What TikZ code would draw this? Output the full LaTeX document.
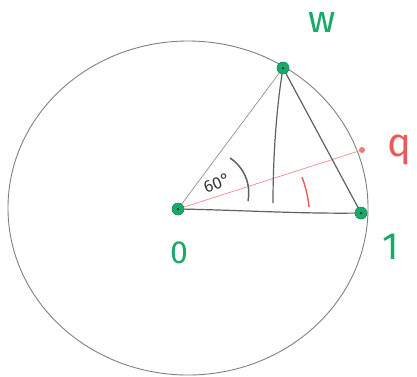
\documentclass[tikz,border=0pt]{standalone}
\usepackage{fontspec}
\setmainfont{Fira Sans}
\definecolor{pgreen}{RGB}{25,170,105}
\definecolor{pred}{RGB}{235,90,90}
\definecolor{pgray}{RGB}{95,95,105}
\tikzset{
  circ/.style={draw=pgray!80, line width=0.9pt},
  thinline/.style={draw=pgray!70, line width=0.7pt},
  darkline/.style={draw=pgray, line width=1.2pt},
  redline/.style={draw=pred!70, line width=0.7pt},
  gdot/.style={circle, fill=pgreen, draw=pgreen!80!black, line width=0.6pt, minimum size=12pt, inner sep=0pt},
  innerdot/.style={circle, fill=pgray!60!black, minimum size=3pt, inner sep=0pt},
  glabel/.style={text=pgreen, font=\fontsize{38}{38}\selectfont},
  rlabel/.style={text=pred, font=\fontsize{40}{40}\selectfont}
}
\begin{document}
\begin{tikzpicture}[x=1pt,y=-1pt]
\useasboundingbox (0,0) rectangle (417,376);
\draw[circ] (188,208) ellipse [x radius=180, y radius=167];
\coordinate (O) at (178,209);
\coordinate (one) at (361,213);
\coordinate (w) at (283,68);
\coordinate (q) at (362,150);
\coordinate (f) at (273,203);
% red line to q
\draw[redline] (O) -- (q);
% triangle
\draw[thinline] (O) -- (w);
\draw[darkline] (w) -- (one);
\draw[darkline] (O) .. controls (240,210) and (300,214) .. (one);
\draw[darkline] (w) .. controls (276,110) and (273,160) .. (f);
% angle arc
\draw[darkline, line width=1.5pt] (230,158) .. controls (245,168) and (251,185) .. (248,201);
\node[text=pgray!60!black, rotate=22, font=\fontsize{17}{17}\selectfont, inner sep=0pt] (ang) at (217,183) {60°};
% red tick
\draw[pred, line width=1.4pt] (302,177) .. controls (306,188) and (308,197) .. (309,207);
% dots
\node[circle, fill=pred!80, minimum size=6pt, inner sep=0pt] (qd) at (q) {};
\foreach \p in {O,one,w} {
  \node[gdot] (\p d) at (\p) {};
  \node[innerdot] at (\p) {};
}
% labels
\node[glabel] (lw) at (322,22) {w};
\node[rlabel] (lq) at (399,150) {q};
\node[glabel] (l1) at (391,247) {1};
\node[glabel, font=\fontsize{32}{32}\selectfont] (l0) at (179,253) {0};
\end{tikzpicture}
\end{document}
